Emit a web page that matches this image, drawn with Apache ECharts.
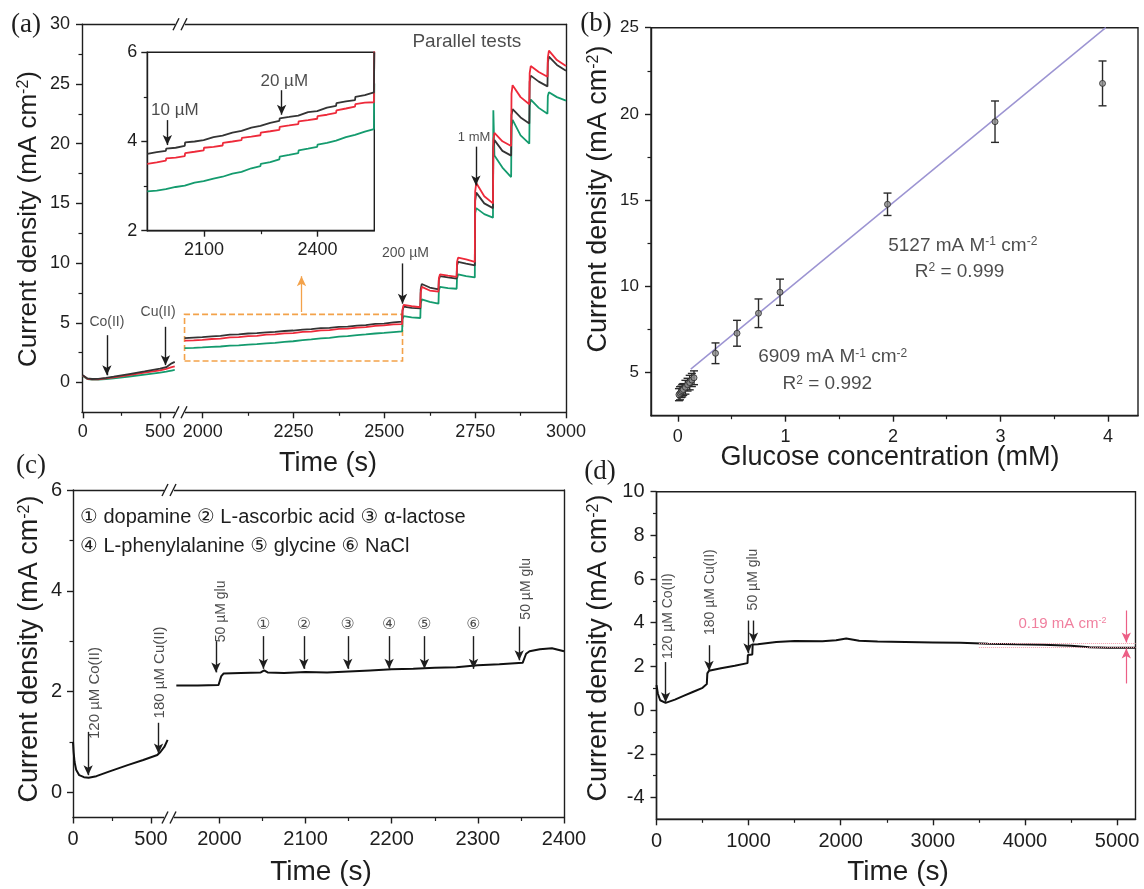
<!DOCTYPE html>
<html><head><meta charset="utf-8">
<script src="https://cdn.jsdelivr.net/npm/echarts@6/dist/echarts.min.js"></script>
<style>html,body{margin:0;padding:0;background:#fff}#c{width:1144px;height:889px}</style>
</head><body><div id="c"></div>
<script>
// ---------------- DATA ----------------
// Panel (a): three parallel tests, left (0-600 s) and right (1950-3000 s) parts of broken time axis
const aTimeLeft  = [0, 10, 30, 60, 100, 150, 200, 300, 400, 500, 540, 555, 575, 595];
const aBlackLeft = [0.60, 0.45, 0.34, 0.29, 0.30, 0.38, 0.48, 0.70, 0.92, 1.15, 1.28, 1.42, 1.60, 1.72];
const aRedLeft   = [0.58, 0.42, 0.31, 0.26, 0.27, 0.34, 0.43, 0.62, 0.82, 1.02, 1.14, 1.20, 1.28, 1.34];
const aGreenLeft = [0.55, 0.40, 0.29, 0.23, 0.23, 0.28, 0.35, 0.50, 0.66, 0.82, 0.90, 0.95, 1.00, 1.05];

const aTimeRight = [1950,1975,1999, 2000,2025,2049, 2050,2075,2099, 2100,2125,2149, 2150,2175,2199, 2200,2225,2249,
  2250,2275,2299, 2300,2325,2349, 2350,2375,2399, 2400,2425,2449, 2450,2475,2499, 2500,2525,2549,
  2550,2553,2575,2599, 2600,2603,2625,2649, 2650,2653,2675,2699, 2700,2703,2725,2749, 2750,2753,2775,2799,
  2800,2803,2825,2849, 2850,2853,2875,2899, 2900,2903,2925,2949, 2950,2953,2975,3000];
const aBlackRight = [3.72,3.76,3.79, 3.84,3.86,3.90, 3.98,4.00,4.03, 4.07,4.10,4.13, 4.17,4.20,4.24, 4.28,4.31,4.35,
  4.38,4.42,4.46, 4.52,4.55,4.58, 4.62,4.66,4.68, 4.72,4.76,4.80, 4.86,4.90,4.93, 5.00,5.04,5.10,
  6.00,6.35,6.25,6.20, 7.80,8.25,7.95,7.80, 8.60,8.90,8.80,8.70, 9.80,10.10,9.95,9.80, 15.20,15.90,15.00,14.60,
  19.70,20.30,19.40,19.00, 22.40,22.90,22.20,21.70, 25.20,25.70,25.20,24.80, 26.80,27.30,26.60,26.10];
const aRedRight = [3.50,3.53,3.57, 3.62,3.64,3.67, 3.74,3.77,3.80, 3.86,3.88,3.91, 3.97,4.00,4.03, 4.08,4.11,4.14,
  4.20,4.23,4.26, 4.33,4.36,4.39, 4.45,4.48,4.51, 4.57,4.60,4.64, 4.70,4.74,4.78, 4.84,4.87,4.88,
  6.10,6.50,6.40,6.30, 7.50,8.00,7.70,7.60, 8.70,9.05,8.95,8.85, 10.10,10.45,10.30,10.10, 16.00,16.70,15.60,15.00,
  20.30,20.90,20.20,19.80, 24.20,24.90,23.90,23.30, 25.90,26.50,26.00,25.60, 27.20,27.80,27.00,26.50];
const aGreenRight = [2.88,2.90,2.93, 2.96,2.98,3.01, 3.05,3.08,3.11, 3.14,3.17,3.21, 3.25,3.28,3.32, 3.36,3.40,3.45,
  3.50,3.54,3.60, 3.66,3.70,3.74, 3.80,3.84,3.88, 3.93,3.97,4.02, 4.06,4.10,4.15, 4.18,4.22,4.28,
  5.30,5.55,5.45,5.40, 6.60,6.95,6.75,6.60, 7.70,8.00,7.90,7.85, 8.70,9.05,8.90,8.80, 14.20,14.60,14.10,13.80,
  22.80,19.00,18.00,17.20, 21.40,22.00,20.70,20.00, 23.20,23.70,23.00,22.50, 24.00,24.30,23.90,23.60];

// Panel (b): calibration points
const bConc    = [0.01,0.02,0.03,0.04,0.05,0.07,0.09,0.11,0.13,0.15,0.35,0.55,0.75,0.95,1.95,2.95,3.95];
const bCurrent = [3.72,3.80,3.88,3.95,4.02,4.15,4.30,4.42,4.57,4.70,6.12,7.28,8.44,9.66,14.76,19.55,21.77];
const bError   = [0.35,0.38,0.33,0.36,0.34,0.40,0.37,0.42,0.38,0.40,0.60,0.75,0.83,0.76,0.65,1.20,1.30];
const bFitHighX = [0.12, 3.98];
const bFitHighY = [5.20, 25.00];
const bFitLowX  = [0.00, 0.16];
const bFitLowY  = [3.62, 4.78];

// Panel (c): interference test
const cTimeLeft = [0, 4, 10, 20, 40, 70, 100, 150, 230, 350, 450, 540, 560, 585, 606];
const cCurLeft  = [1.00, 0.80, 0.60, 0.45, 0.34, 0.30, 0.29, 0.32, 0.41, 0.54, 0.64, 0.74, 0.80, 0.90, 1.04];
const cTimeRight = [1950,1975,1999,2002,2005,2025,2048,2052,2056,2075,2100,2125,2150,2175,2200,2225,2250,2275,2300,2325,2352,2356,2360,2372,2386,2400];
const cCurRight  = [2.12,2.12,2.13,2.30,2.36,2.37,2.38,2.42,2.38,2.37,2.39,2.38,2.40,2.42,2.44,2.45,2.47,2.48,2.52,2.54,2.57,2.75,2.80,2.84,2.86,2.80];
const cInterferents = ['①','②','③','④','⑤','⑥'];
const cInterfTimes  = [2051, 2098, 2149, 2197, 2238, 2295];

// Panel (d): long-term stability
const dTime = [0,15,40,99,200,300,400,500,546,552,570,700,850,988,992,1040,1044,1100,1300,1500,1800,1950,2060,2200,2400,2700,3000,3300,3600,3900,4200,4500,4700,4900,5200];
const dCur  = [1.14,0.75,0.45,0.33,0.48,0.66,0.84,1.02,1.19,1.68,1.80,1.92,2.03,2.15,2.52,2.55,3.00,3.02,3.12,3.16,3.15,3.20,3.28,3.18,3.14,3.12,3.10,3.08,3.04,3.01,2.99,2.95,2.88,2.86,2.86];

// Tick values
const aXLeftTicks = [0, 500], aXLeftMinor = [250];
const aXRightTicks = [2000, 2250, 2500, 2750, 3000], aXRightMinor = [2125, 2375, 2625, 2875];
const aYTicks = [0, 5, 10, 15, 20, 25, 30], aYMinor = [2.5, 7.5, 12.5, 17.5, 22.5, 27.5];
const insetXTicks = [2100, 2400], insetXMinor = [2250];
const insetYTicks = [2, 4, 6], insetYMinor = [3, 5];
const bXTicks = [0, 1, 2, 3, 4], bXMinor = [0.5, 1.5, 2.5, 3.5];
const bYTicks = [5, 10, 15, 20, 25], bYMinor = [7.5, 12.5, 17.5, 22.5];
const cXLeftTicks = [0, 500], cXLeftMinor = [250];
const cXRightTicks = [2000, 2100, 2200, 2300, 2400], cXRightMinor = [2050, 2150, 2250, 2350];
const cYTicks = [0, 2, 4, 6], cYMinor = [1, 3, 5];
const dXTicks = [0, 1000, 2000, 3000, 4000, 5000], dXMinor = [500, 1500, 2500, 3500, 4500];
const dYTicks = [-4, -2, 0, 2, 4, 6, 8, 10], dYMinor = [-3, -1, 1, 3, 5, 7, 9];

// ---------------- STYLE / BUILD ----------------
const FONT = '"Liberation Sans", Arial, "DejaVu Sans", "Noto Sans CJK SC", sans-serif';
const SERIF = '"Liberation Serif", "Times New Roman", serif';
const INK = '#1e1e1e';
const C_BLACK = '#343434', C_RED = '#ee2a3a', C_GREEN = '#149b6e', C_ORANGE = '#f3a24a', C_FIT = '#9c94d2', C_PINK = '#ec5f86';

const grids = [], xAxes = [], yAxes = [], series = [], graphics = [];
function addGrid(left, top, width, height, border) {
  grids.push({left, top, width, height, show: !!border, borderColor: INK, borderWidth: 1.4,
    backgroundColor: border ? '#ffffff' : 'transparent', containLabel: false});
  return grids.length - 1;
}
function axisBase(gi, min, max, pos) {
  return {gridIndex: gi, type: 'value', min, max, position: pos, silent: true,
    splitLine: {show: false}, axisLine: {show: false, onZero: false},
    axisTick: {show: false}, axisLabel: {show: false}, axisPointer: {show: false}};
}
function addAxisSet(list, gi, min, max, major, minor, fs, margin, pos, showLine) {
  const main = axisBase(gi, min, max, pos);
  main.axisLine = {show: showLine, onZero: false, lineStyle: {color: INK, width: 1.4}};
  main.axisTick = {show: true, customValues: major, length: 6, inside: false, lineStyle: {color: INK, width: 1.4}};
  main.axisLabel = {show: true, customValues: major, fontSize: fs, fontFamily: FONT, color: INK, margin,
    formatter: v => String(v)};
  list.push(main);
  const idx = list.length - 1;
  if (minor && minor.length) {
    const mn = axisBase(gi, min, max, pos);
    mn.axisTick = {show: true, customValues: minor, length: 3.5, inside: false, lineStyle: {color: INK, width: 1.2}};
    list.push(mn);
  }
  return idx;
}
function addLineAxis(list, gi, min, max, pos) {
  const a = axisBase(gi, min, max, pos);
  a.axisLine = {show: true, onZero: false, lineStyle: {color: INK, width: 1.4}};
  list.push(a);
  return list.length - 1;
}
function addHidden(list, gi, min, max, pos) { list.push(axisBase(gi, min, max, pos)); return list.length - 1; }
function pairs(xs, ys) { return xs.map((x, i) => [x, ys[i]]); }
function lineSeries(xi, yi, data, color, width) {
  return {type: 'line', xAxisIndex: xi, yAxisIndex: yi, data, showSymbol: false, symbol: 'none',
    lineStyle: {color, width: width || 1.8}, itemStyle: {color}, silent: true, z: 3, clip: true};
}
function notesSeries(xi, yi, notes, arrows, extra) {
  const s = {type: 'scatter', xAxisIndex: xi, yAxisIndex: yi, symbolSize: 1, silent: true, z: 10, clip: false,
    itemStyle: {color: 'rgba(0,0,0,0)'},
    label: {show: true, position: 'inside', formatter: p => p.name, fontFamily: FONT, color: INK},
    data: notes.map(n => ({value: [n.x, n.y], name: n.text,
      label: {fontSize: n.fs, rotate: n.rot || 0, color: n.color || INK,
        rich: {sup: {fontSize: Math.round(n.fs * 0.62), verticalAlign: 'top', color: n.color || INK, fontFamily: FONT}}}})),
    markLine: {silent: true, symbol: ['none', 'arrow'], symbolSize: [7, 10], label: {show: false},
      emphasis: {disabled: true}, animation: false, precision: 4,
      lineStyle: {color: INK, width: 1.4, type: 'solid'},
      data: arrows.map(a => [
        {coord: [a.x, a.y1], symbol: 'none', lineStyle: {color: a.color || INK, width: a.w || 1.4, type: a.type || 'solid'}},
        {coord: [a.x2 !== undefined ? a.x2 : a.x, a.y2], symbol: a.noHead ? 'none' : 'arrow'}])}
  };
  return Object.assign(s, extra || {});
}
function gText(x, y, text, fontSize, opts) {
  opts = opts || {};
  return {type: 'text', x, y, rotation: opts.rot || 0, z: 100, silent: true,
    style: {text, fill: opts.color || INK, fontSize, fontFamily: opts.family || FONT, fontWeight: opts.weight || 'normal',
      align: opts.align || 'center', verticalAlign: 'middle', textAlign: opts.align || 'center', textVerticalAlign: 'middle',
      rich: {sup: {fontSize: Math.round(fontSize * 0.6), verticalAlign: 'top', fill: opts.color || INK, fontFamily: FONT}}}};
}
function breakMark(x, y) {
  graphics.push({type: 'rect', z: 90, silent: true, shape: {x: x - 5, y: y - 2.5, width: 10, height: 5}, style: {fill: '#fff'}});
  graphics.push({type: 'line', z: 91, silent: true, shape: {x1: x - 7, y1: y + 6, x2: x - 1, y2: y - 6}, style: {stroke: INK, lineWidth: 1.4}});
  graphics.push({type: 'line', z: 91, silent: true, shape: {x1: x + 1, y1: y + 6, x2: x + 7, y2: y - 6}, style: {stroke: INK, lineWidth: 1.4}});
}

// ---------- Panel (a) ----------
const gAL = addGrid(82, 24.3, 98, 388, false);
const xAL = addAxisSet(xAxes, gAL, -5, 629, aXLeftTicks, aXLeftMinor, 18, 11, 'bottom', true);
addLineAxis(xAxes, gAL, -5, 629, 'top');
const yAL = addAxisSet(yAxes, gAL, -2.5, 30, aYTicks, aYMinor, 18, 12, 'left', true);

const gAR = addGrid(180, 24.3, 386, 388, false);
const xAR = addAxisSet(xAxes, gAR, 1937.5, 3000, aXRightTicks, aXRightMinor, 18, 11, 'bottom', true);
addLineAxis(xAxes, gAR, 1937.5, 3000, 'top');
const yAR = addHidden(yAxes, gAR, -2.5, 30, 'left');
addLineAxis(yAxes, gAR, -2.5, 30, 'right');

const gAI = addGrid(147.3, 52.3, 227, 178.4, true);
const xAI = addAxisSet(xAxes, gAI, 1950, 2550, insetXTicks, insetXMinor, 18, 10, 'bottom', true);
const yAI = addAxisSet(yAxes, gAI, 2, 6, insetYTicks, insetYMinor, 18, 10, 'left', true);

series.push(lineSeries(xAL, yAL, pairs(aTimeLeft, aGreenLeft), C_GREEN));
series.push(lineSeries(xAL, yAL, pairs(aTimeLeft, aRedLeft), C_RED));
series.push(lineSeries(xAL, yAL, pairs(aTimeLeft, aBlackLeft), C_BLACK));
series.push(lineSeries(xAR, yAR, pairs(aTimeRight, aGreenRight), C_GREEN));
series.push(lineSeries(xAR, yAR, pairs(aTimeRight, aBlackRight), C_BLACK));
series.push(lineSeries(xAR, yAR, pairs(aTimeRight, aRedRight), C_RED));
const insetCut = p => p[0] <= 2550;
series.push(lineSeries(xAI, yAI, pairs(aTimeRight, aGreenRight).filter(insetCut), C_GREEN));
series.push(lineSeries(xAI, yAI, pairs(aTimeRight, aRedRight).filter(insetCut), C_RED));
series.push(lineSeries(xAI, yAI, pairs(aTimeRight, aBlackRight).filter(insetCut), C_BLACK));

series.push(notesSeries(xAL, yAL,
  [{x: 156, y: 5.07, text: 'Co(II)', fs: 14}, {x: 487, y: 5.9, text: 'Cu(II)', fs: 14}],
  [{x: 156, y1: 3.96, y2: 0.6}, {x: 535, y1: 4.66, y2: 1.45}]));
series.push(notesSeries(xAR, yAR,
  [{x: 2558, y: 10.8, text: '200 µM', fs: 14}, {x: 2747, y: 20.5, text: '1 mM', fs: 13},
   {x: 2727, y: 28.5, text: 'Parallel tests', fs: 19}],
  [{x: 2550, y1: 9.97, y2: 6.6}, {x: 2752, y1: 19.75, y2: 16.5},
   {x: 2272, y1: 5.9, y2: 8.9, color: C_ORANGE, w: 1.3}],
  {markArea: {silent: true, label: {show: false},
    itemStyle: {color: 'rgba(0,0,0,0)', borderColor: C_ORANGE, borderWidth: 1.6, borderType: [6, 3]},
    data: [[{coord: [1950, 1.8]}, {coord: [2550, 5.7]}]]}}));
series.push(notesSeries(xAI, yAI,
  [{x: 2023, y: 4.69, text: '10 µM', fs: 17}, {x: 2312, y: 5.36, text: '20 µM', fs: 17}],
  [{x: 2003, y1: 4.48, y2: 3.92}, {x: 2305, y1: 5.15, y2: 4.6}]));

// ---------- Panel (b) ----------
const gB = addGrid(651, 27.7, 487, 388, true);
const xB = addAxisSet(xAxes, gB, -0.25, 4.28, bXTicks, bXMinor, 18, 12, 'bottom', true);
const yB = addAxisSet(yAxes, gB, 2.5, 25, bYTicks, bYMinor, 17, 12, 'left', true);
series.push(lineSeries(xB, yB, pairs(bFitHighX, bFitHighY), C_FIT, 1.5));
series.push(lineSeries(xB, yB, pairs(bFitLowX, bFitLowY), C_FIT, 1.5));
series.push({type: 'custom', xAxisIndex: xB, yAxisIndex: yB, silent: true, z: 4,
  data: bConc.map((c, i) => [c, bCurrent[i] - bError[i], bCurrent[i] + bError[i]]),
  encode: {x: 0, y: [1, 2]},
  renderItem: function (params, api) {
    const x = api.value(0);
    const lo = api.coord([x, api.value(1)]), hi = api.coord([x, api.value(2)]);
    const w = 4, st = {stroke: '#2a2a2a', lineWidth: 1.4};
    return {type: 'group', children: [
      {type: 'line', shape: {x1: lo[0], y1: lo[1], x2: hi[0], y2: hi[1]}, style: st},
      {type: 'line', shape: {x1: lo[0] - w, y1: lo[1], x2: lo[0] + w, y2: lo[1]}, style: st},
      {type: 'line', shape: {x1: hi[0] - w, y1: hi[1], x2: hi[0] + w, y2: hi[1]}, style: st}]};
  }});
series.push({type: 'scatter', xAxisIndex: xB, yAxisIndex: yB, silent: true, z: 5,
  data: pairs(bConc, bCurrent), symbol: 'circle', symbolSize: 6,
  itemStyle: {color: '#8d8d8d', borderColor: '#2a2a2a', borderWidth: 1}});
series.push(notesSeries(xB, yB,
  [{x: 2.65, y: 12.36, text: '5127 mA M{sup|-1} cm{sup|-2}', fs: 19},
   {x: 2.62, y: 10.86, text: 'R{sup|2} = 0.999', fs: 19},
   {x: 1.44, y: 5.89, text: '6909 mA M{sup|-1} cm{sup|-2}', fs: 19},
   {x: 1.39, y: 4.34, text: 'R{sup|2} = 0.992', fs: 19}], []));

// ---------- Panel (c) ----------
const gCL = addGrid(73, 490, 96, 327.5, false);
const xCL = addAxisSet(xAxes, gCL, 0, 615, cXLeftTicks, cXLeftMinor, 20, 12, 'bottom', true);
addLineAxis(xAxes, gCL, 0, 615, 'top');
const yCL = addAxisSet(yAxes, gCL, -0.5, 6, cYTicks, cYMinor, 20, 11, 'left', true);
const gCR = addGrid(169, 490, 395, 327.5, false);
const xCR = addAxisSet(xAxes, gCR, 1941.5, 2400, cXRightTicks, cXRightMinor, 20, 12, 'bottom', true);
addLineAxis(xAxes, gCR, 1941.5, 2400, 'top');
const yCR = addHidden(yAxes, gCR, -0.5, 6, 'left');
addLineAxis(yAxes, gCR, -0.5, 6, 'right');
series.push(lineSeries(xCL, yCL, pairs(cTimeLeft, cCurLeft), '#111', 2));
series.push(lineSeries(xCR, yCR, pairs(cTimeRight, cCurRight), '#111', 2));
series.push(notesSeries(xCL, yCL,
  [{x: 141, y: 1.97, text: '120 µM Co(II)', fs: 15, rot: 90}, {x: 555, y: 2.38, text: '180 µM Cu(II)', fs: 15, rot: 90}],
  [{x: 97, y1: 1.2, y2: 0.34}, {x: 548, y1: 1.38, y2: 0.77}]));
series.push(notesSeries(xCR, yCR,
  [{x: 2002, y: 3.59, text: '50 µM glu', fs: 14, rot: 90}, {x: 2356, y: 4.04, text: '50 µM glu', fs: 14, rot: 90}]
    .concat(cInterferents.map((s, i) => ({x: cInterfTimes[i], y: 3.33, text: s, fs: 16}))),
  [{x: 1996, y1: 3.0, y2: 2.38}, {x: 2348, y1: 3.29, y2: 2.62}]
    .concat(cInterfTimes.map(t => ({x: t, y1: 3.1, y2: 2.45})))));

// ---------- Panel (d) ----------
const gD = addGrid(656.5, 491.7, 479, 327.6, true);
const xD = addAxisSet(xAxes, gD, 0, 5200, dXTicks, dXMinor, 20, 12, 'bottom', true);
const yD = addAxisSet(yAxes, gD, -5, 10, dYTicks, dYMinor, 20, 12, 'left', true);
series.push(lineSeries(xD, yD, pairs(dTime, dCur), '#111', 2));
series.push(notesSeries(xD, yD,
  [{x: 131, y: 4.3, text: '120 µM Co(II)', fs: 14, rot: 90}, {x: 586, y: 5.4, text: '180 µM Cu(II)', fs: 14, rot: 90},
   {x: 1049, y: 5.98, text: '50 µM glu', fs: 14, rot: 90},
   {x: 4407, y: 3.95, text: '0.19 mA cm{sup|-2}', fs: 15, color: C_PINK}],
  [{x: 99, y1: 2.2, y2: 0.36}, {x: 570, y1: 2.97, y2: 1.8}, {x: 994, y1: 4.1, y2: 2.6}, {x: 1053, y1: 4.1, y2: 3.1},
   {x: 3500, x2: 5200, y1: 3.05, y2: 3.05, noHead: true, color: '#f3a0ae', type: 'dotted', w: 1},
   {x: 3500, x2: 5200, y1: 2.86, y2: 2.86, noHead: true, color: '#f3a0ae', type: 'dotted', w: 1},
   {x: 5100, y1: 4.56, y2: 3.1, color: C_PINK, w: 1.2}, {x: 5100, y1: 1.22, y2: 2.82, color: C_PINK, w: 1.2}]));

// ---------- Texts ----------
graphics.push(gText(26, 25, '(a)', 27, {family: SERIF}));
graphics.push(gText(596, 24, '(b)', 27, {family: SERIF}));
graphics.push(gText(31, 466, '(c)', 27, {family: SERIF}));
graphics.push(gText(600, 472, '(d)', 27, {family: SERIF}));
const yTitle = 'Current density (mA cm{sup|-2})';
graphics.push(gText(29, 219, yTitle, 26, {rot: Math.PI / 2}));
graphics.push(gText(599, 199, yTitle, 27, {rot: Math.PI / 2}));
graphics.push(gText(30, 649, yTitle, 27, {rot: Math.PI / 2}));
graphics.push(gText(599, 648, yTitle, 27, {rot: Math.PI / 2}));
graphics.push(gText(328, 464, 'Time (s)', 27));
graphics.push(gText(890, 458, 'Glucose concentration (mM)', 27));
graphics.push(gText(321, 872, 'Time (s)', 28));
graphics.push(gText(898, 872, 'Time (s)', 28));
graphics.push(gText(80, 517, '① dopamine ② L-ascorbic acid ③ α-lactose', 20, {align: 'left'}));
graphics.push(gText(80, 546, '④ L-phenylalanine ⑤ glycine ⑥ NaCl', 20, {align: 'left'}));
breakMark(180, 24.3); breakMark(180, 412.3);
breakMark(169, 490); breakMark(169, 817.5);

const chart = echarts.init(document.getElementById('c'), null, {renderer: 'canvas'});
chart.setOption({animation: false, backgroundColor: '#ffffff', grid: grids, xAxis: xAxes, yAxis: yAxes,
  series, graphic: {elements: graphics}});
</script></body></html>
